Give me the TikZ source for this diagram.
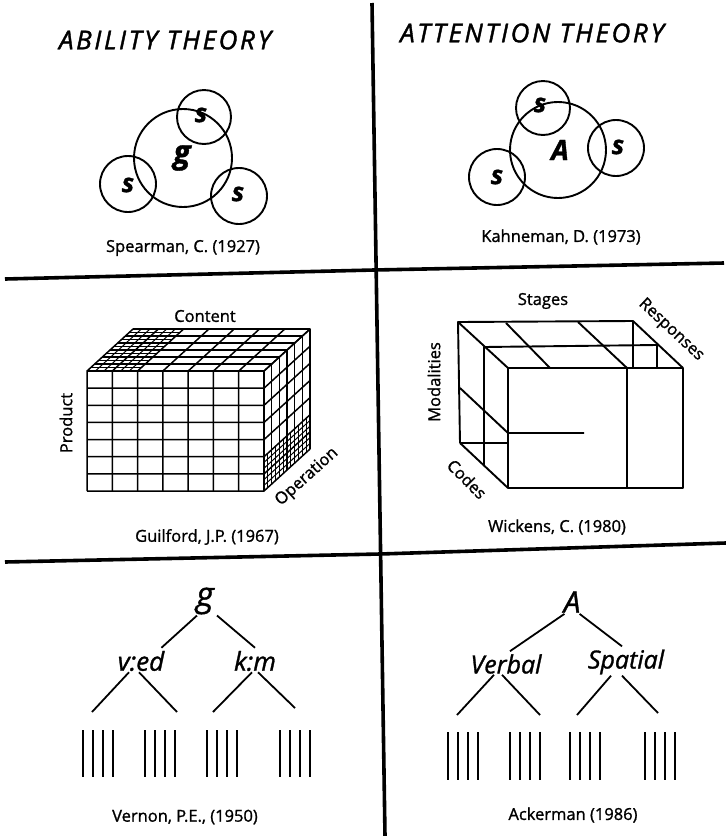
\documentclass[tikz,border=0pt]{standalone}
\usepackage{fontspec}
\setmainfont{Open Sans}[FakeBold=1.2]
\newfontfamily\titlefont{Open Sans}[LetterSpace=10, FakeBold=1.5]
\usetikzlibrary{positioning,calc}

\tikzset{
  divider/.style={line width=3.6pt},
  ring/.style={line width=1.9pt},
  paneltitle/.style={font=\fontsize{26pt}{27pt}\titlefont\itshape},
  caption/.style={font=\fontsize{16.5pt}{17pt}\selectfont},
  axislabel/.style={font=\fontsize{16.5pt}{17pt}\selectfont, inner sep=1pt},
  factor/.style={font=\fontsize{#1}{#1}\selectfont\bfseries\itshape, inner sep=1pt},
  treelab/.style={font=\fontsize{#1}{#1}\selectfont\itshape, inner sep=1pt},
  branch/.style={line width=1.8pt},
  bar/.style={line width=1.9pt},
  cubeline/.style={line width=1.5pt},
  hatch/.style={line width=1pt}
}

\begin{document}
\begin{tikzpicture}[x=1pt, y=-1pt, line join=round]
\useasboundingbox (0,0) rectangle (726,836);

% frame of the six panels
\draw[divider] (372,3) -- (385,836);
\draw[divider] (5,279) -- (374,270) -- (724,263);
\draw[divider] (5,562) -- (380,554) -- (726,543);

% column headings
\node[paneltitle] (ability) at (165,40) {ABILITY THEOR\kern3pt Y};
\node[paneltitle] (attention) at (532,33) {ATTENTION THEOR\kern3pt Y};

% Spearman: g with three s
\draw[ring] (183,158) circle[radius=49];
\draw[ring] (204,117) circle[radius=27];
\draw[ring] (128,184) circle[radius=28];
\draw[ring] (239,196) circle[radius=28];
\node[factor=32pt] (g1) at (182,158) {g};
\node[factor=26pt] (s1) at (201,115) {s};
\node[factor=26pt] (s2) at (128,185) {s};
\node[factor=26pt] (s3) at (238,194) {s};
\node[caption] (spearman) at (183,248) {Spearman, C. (1927)};

% Kahneman: A with three s
\draw[ring] (558,150) circle[radius=48];
\draw[ring] (543,108) circle[radius=27];
\draw[ring] (616,148) circle[radius=28];
\draw[ring] (497,177) circle[radius=28];
\node[factor=28pt] (A1) at (560,150) {A};
\node[factor=26pt] (s4) at (540,105) {s};
\node[factor=26pt] (s5) at (618,147) {s};
\node[factor=26pt] (s6) at (497,177) {s};
\node[caption] (kahneman) at (561,237) {Kahneman, D. (1973)};

% Guilford: 7 x 7 x 6 block
\begin{scope}[shift={(87pt,-491pt)}, x={(25.29pt,0pt)}, y={(0pt,17.14pt)}, z={(7.67pt,7pt)}, cubeline]
  \foreach \i in {0,...,7}
    \draw (\i,0,0) -- (\i,7,0) -- (\i,7,6);
  \foreach \j in {0,...,7}
    \draw (0,\j,0) -- (7,\j,0) -- (7,\j,6);
  \foreach \k in {0,...,6}
    \draw (0,7,\k) -- (7,7,\k) -- (7,0,\k);
  % denser cells on top and side
  \foreach \i in {0.33,0.67,1.33,1.67}
    \draw[hatch] (\i,7,0) -- (\i,7,6);
  \foreach \k in {0.5,1.5,...,5.5}
    \draw[hatch] (0,7,\k) -- (2,7,\k);
  \foreach \j in {0.33,0.67,1.33,1.67}
    \draw[hatch] (7,\j,0) -- (7,\j,6);
  \foreach \k in {0.5,1.5,...,5.5}
    \draw[hatch] (7,0,\k) -- (7,2,\k);
\end{scope}
\node[axislabel] (content) at (205,316) {Content};
\node[axislabel, rotate=90] (product) at (66,423) {Product};
\node[axislabel, rotate=42] (operation) at (307,477) {Operation};
\node[caption] (guilford) at (207,537) {Guilford, J.P. (1967)};

% Wickens: multiple resources
\coordinate (btl) at (458,322);
\coordinate (btr) at (633,321);
\coordinate (bbl) at (460,443);
\coordinate (mtl) at (484,347);
\coordinate (mtr) at (657,345);
\coordinate (mbl) at (484,466);
\coordinate (ftl) at (508,368);
\coordinate (ftr) at (683,368);
\coordinate (fbr) at (683,488);
\coordinate (fbl) at (508,488);
\begin{scope}[line width=1.9pt]
  \draw (bbl) -- (btl) -- (btr) -- (ftr);
  \draw (btl) -- (ftl);
  \draw (bbl) -- (fbl);
  \draw (mbl) -- (mtl) -- (mtr) -- (657,368);
  \draw (btr) -- (633,368);
  \draw (ftl) rectangle (fbr);
  \draw (627,368) -- (627,488);
  \draw (506,323) -- (550,368);
  \draw (578,322) -- (627,368);
  \draw (bbl) -- (508,443);
  \draw (460,388) -- (508,433) -- (584,433);
\end{scope}
\node[axislabel] (stages) at (543,301) {Stages};
\node[axislabel, rotate=-43] (responses) at (671,330) {Responses};
\node[axislabel, rotate=90] (modalities) at (434,382) {Modalities};
\node[axislabel, rotate=-45] (codes) at (467,479) {Codes};
\node[caption] (wickens) at (557,527) {Wickens, C. (1980)};

% Vernon: hierarchy under g
\node[treelab=34pt] (g2) at (205,601) {g};
\node[treelab=26pt] (ved) at (141,661) {v:ed};
\node[treelab=26pt] (km) at (255,661) {k:m};
\coordinate (v1) at (92,712);
\coordinate (v2) at (177,712);
\coordinate (v3) at (213,712);
\coordinate (v4) at (295,708);
\draw[branch] ($(g2.south)+(-8,0)$) -- ($(ved.north east)+(-4,-2)$);
\draw[branch] ($(g2.south)+(12,0)$) -- ($(km.north)+(0,-2)$);
\draw[branch] ($(ved.south)+(-12,0)$) -- (v1);
\draw[branch] ($(ved.south)+(-2,0)$) -- (v2);
\draw[branch] ($(km.south)+(-3,0)$) -- (v3);
\draw[branch] ($(km.south)+(3,0)$) -- (v4);
\foreach \x in {83,145,207,280}
  \foreach \d in {0,10,20,30}
    \draw[bar] (\x+\d,730) -- (\x+\d,777);
\node[caption] (vernon) at (185,817) {Vernon, P.E., (1950)};

% Ackerman: hierarchy under A
\node[treelab=30pt] (A2) at (572,602) {A};
\node[treelab=25pt] (verbal) at (506,664) {Verbal};
\node[treelab=25pt] (spatial) at (626,662) {Spatial};
\coordinate (a1) at (457,715);
\coordinate (a2) at (540,715);
\coordinate (a3) at (577,715);
\coordinate (a4) at (658,713);
\draw[branch] ($(A2.south west)+(2,0)$) -- ($(verbal.north)+(4,-2)$);
\draw[branch] ($(A2.south east)+(-2,0)$) -- ($(spatial.north)+(-4,-2)$);
\draw[branch] ($(verbal.south)+(-12,0)$) -- (a1);
\draw[branch] ($(verbal.south)+(-4,0)$) -- (a2);
\draw[branch] ($(spatial.south)+(-15,0)$) -- (a3);
\draw[branch] ($(spatial.south)+(-4,0)$) -- (a4);
\foreach \x in {448,510,570,645}
  \foreach \d in {0,10,20,30}
    \draw[bar] (\x+\d,732) -- (\x+\d,780);
\node[caption] (ackerman) at (573,815) {Ackerman (1986)};
\end{tikzpicture}
\end{document}
